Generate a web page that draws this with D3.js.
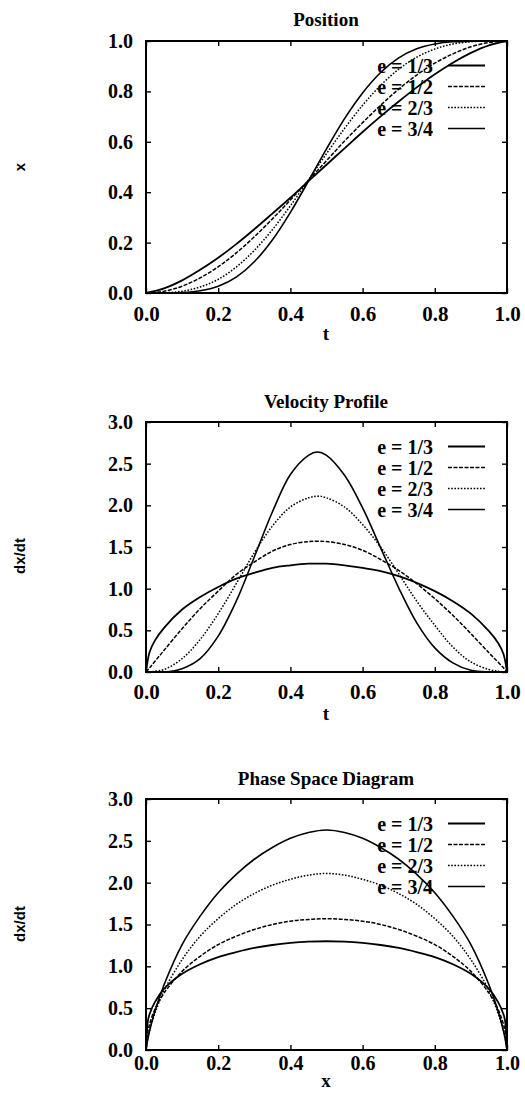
<!DOCTYPE html>
<html>
<head>
<meta charset="utf-8">
<script src="https://cdn.jsdelivr.net/npm/d3@7.9.0/dist/d3.min.js"></script>
<style>
    body { margin: 0; background: #fff; }
    svg { display: block; }
    .tick text { font-family: 'Liberation Serif', 'Times New Roman', serif; font-weight: bold; fill: #000; }
    .title, .xlabel, .legend text { font-family: 'Liberation Serif', 'Times New Roman', serif; font-weight: bold; fill: #000; }
    .ylabel { font-family: 'Liberation Sans', Arial, sans-serif; font-weight: bold; fill: #000; }
</style>
</head>
<body>
<svg id="chart" width="525" height="1101"></svg>
<script>
// legend entries
const eLabels = ['e = 1/3', 'e = 1/2', 'e = 2/3', 'e = 3/4'];

// position x(t)
const tPos = [0, 0.05, 0.1, 0.15, 0.2, 0.25, 0.3, 0.35, 0.4, 0.45, 0.5, 0.55, 0.6, 0.65, 0.7, 0.75, 0.8, 0.85, 0.9, 0.95, 1];
const posE13 = [0, 0.018, 0.050, 0.092, 0.140, 0.194, 0.253, 0.315, 0.378, 0.444, 0.509, 0.574, 0.639, 0.701, 0.760, 0.816, 0.868, 0.914, 0.953, 0.983, 1];
const posE12 = [0, 0.007, 0.027, 0.060, 0.104, 0.159, 0.223, 0.294, 0.369, 0.447, 0.525, 0.603, 0.676, 0.745, 0.809, 0.865, 0.912, 0.949, 0.977, 0.994, 1];
const posE23 = [0, 0.001, 0.007, 0.024, 0.054, 0.103, 0.169, 0.251, 0.346, 0.449, 0.553, 0.653, 0.745, 0.824, 0.888, 0.936, 0.968, 0.988, 0.997, 1, 1];
const posE34 = [0, 0, 0.002, 0.009, 0.027, 0.063, 0.124, 0.210, 0.320, 0.444, 0.572, 0.692, 0.794, 0.875, 0.933, 0.969, 0.988, 0.997, 0.999, 1, 1];

// velocity dx/dt(t)
const tVel = [0, 0.01, 0.025, 0.05, 0.1, 0.15, 0.2, 0.25, 0.3, 0.35, 0.4, 0.45, 0.475, 0.5, 0.55, 0.6, 0.65, 0.7, 0.75, 0.8, 0.85, 0.9, 0.95, 0.975, 0.99, 1];
const velE13 = [0, 0.24, 0.38, 0.53, 0.75, 0.90, 1.02, 1.12, 1.19, 1.25, 1.28, 1.30, 1.30, 1.30, 1.28, 1.25, 1.21, 1.15, 1.07, 0.97, 0.85, 0.70, 0.49, 0.35, 0.22, 0];
const velE12 = [0, 0.05, 0.13, 0.26, 0.52, 0.76, 0.97, 1.17, 1.32, 1.45, 1.53, 1.565, 1.57, 1.565, 1.53, 1.46, 1.35, 1.22, 1.06, 0.88, 0.68, 0.46, 0.23, 0.12, 0.05, 0];
const velE23 = [0, 0, 0.01, 0.03, 0.16, 0.39, 0.70, 1.06, 1.43, 1.75, 1.98, 2.09, 2.11, 2.09, 1.98, 1.77, 1.50, 1.18, 0.85, 0.56, 0.30, 0.12, 0.03, 0.01, 0, 0];
const velE34 = [0, 0, 0, 0, 0.04, 0.16, 0.43, 0.85, 1.38, 1.92, 2.37, 2.60, 2.64, 2.60, 2.36, 1.97, 1.49, 1.01, 0.59, 0.29, 0.11, 0.02, 0, 0, 0, 0];

// phase space dx/dt(x)
const xPhase = [0, 0.005, 0.01, 0.025, 0.05, 0.1, 0.15, 0.2, 0.25, 0.3, 0.35, 0.4, 0.45, 0.5, 0.55, 0.6, 0.65, 0.7, 0.75, 0.8, 0.85, 0.9, 0.95, 0.975, 0.99, 0.995, 1];
const phaseE13 = [0, 0.34, 0.43, 0.575, 0.73, 0.91, 1.025, 1.11, 1.17, 1.22, 1.255, 1.28, 1.295, 1.30, 1.295, 1.28, 1.255, 1.22, 1.17, 1.11, 1.025, 0.91, 0.73, 0.575, 0.43, 0.34, 0];
const phaseE12 = [0, 0.22, 0.31, 0.49, 0.68, 0.94, 1.12, 1.26, 1.36, 1.44, 1.50, 1.54, 1.56, 1.57, 1.56, 1.54, 1.50, 1.44, 1.36, 1.26, 1.12, 0.94, 0.68, 0.49, 0.31, 0.22, 0];
const phaseE23 = [0, 0.15, 0.24, 0.44, 0.71, 1.08, 1.36, 1.57, 1.74, 1.87, 1.97, 2.04, 2.09, 2.11, 2.09, 2.04, 1.97, 1.87, 1.74, 1.57, 1.36, 1.08, 0.71, 0.44, 0.24, 0.15, 0];
const phaseE34 = [0, 0.13, 0.23, 0.47, 0.78, 1.26, 1.60, 1.88, 2.10, 2.28, 2.42, 2.53, 2.60, 2.63, 2.60, 2.53, 2.42, 2.28, 2.10, 1.88, 1.60, 1.26, 0.78, 0.47, 0.23, 0.13, 0];

const xTicks = [0, 0.2, 0.4, 0.6, 0.8, 1.0];
const posTicks = [0, 0.2, 0.4, 0.6, 0.8, 1.0];
const velTicks = [0, 0.5, 1.0, 1.5, 2.0, 2.5, 3.0];

const dashes = [null, '4,1.5', '1.6,1.6', null];
const widths = [1.8, 1.5, 1.5, 1.6];

const svg = d3.select('#chart');
const x = d3.scaleLinear().domain([0, 1]).range([146, 507]);
const fmt = d3.format('.1f');

function drawPanel(p, idx) {
    const g = svg.append('g');
    const y = d3.scaleLinear().domain([0, p.yMax]).range([p.bottom, p.top]);

    g.append('clipPath').attr('id', `clip${idx}`)
        .append('rect')
        .attr('x', x(0)).attr('y', p.top)
        .attr('width', x(1) - x(0)).attr('height', p.bottom - p.top);

    g.append('g')
        .attr('transform', `translate(0,${p.bottom})`)
        .call(d3.axisBottom(x).tickValues(xTicks).tickFormat(fmt).tickSizeInner(-5).tickSizeOuter(0).tickPadding(p.xPad))
        .call((s) => s.select('.domain').remove())
        .selectAll('text').attr('font-size', p.xFont);
    g.append('g')
        .attr('transform', `translate(0,${p.top})`)
        .call(d3.axisTop(x).tickValues(xTicks).tickFormat('').tickSizeInner(-5).tickSizeOuter(0))
        .call((s) => s.select('.domain').remove());
    g.append('g')
        .attr('transform', `translate(${x(0)},0)`)
        .call(d3.axisLeft(y).tickValues(p.yTicks).tickFormat(fmt).tickSizeInner(-5).tickSizeOuter(0).tickPadding(13))
        .call((s) => s.select('.domain').remove())
        .selectAll('text').attr('font-size', 20);
    g.append('g')
        .attr('transform', `translate(${x(1)},0)`)
        .call(d3.axisRight(y).tickValues(p.yTicks).tickFormat('').tickSizeInner(-5).tickSizeOuter(0))
        .call((s) => s.select('.domain').remove());
    g.selectAll('.tick line').attr('stroke', '#000').attr('stroke-width', 1.4);

    const line = d3.line().x((d) => x(d[0])).y((d) => y(d[1])).curve(p.curve);
    const curves = g.append('g').attr('clip-path', `url(#clip${idx})`);
    p.series.forEach((vals, i) => {
        curves.append('path')
            .datum(p.xs.map((xv, j) => [xv, vals[j]]))
            .attr('d', line)
            .attr('fill', 'none')
            .attr('stroke', '#000')
            .attr('stroke-width', widths[i])
            .attr('stroke-dasharray', dashes[i]);
    });

    g.append('rect')
        .attr('x', x(0)).attr('y', p.top)
        .attr('width', x(1) - x(0)).attr('height', p.bottom - p.top)
        .attr('fill', 'none').attr('stroke', '#000').attr('stroke-width', 2);

    const legend = g.append('g').attr('class', 'legend');
    eLabels.forEach((label, i) => {
        const ly = p.top + 24.5 + 21 * i;
        legend.append('text')
            .attr('x', 433).attr('y', ly).attr('dy', '0.35em')
            .attr('text-anchor', 'end').attr('font-size', 20)
            .text(label);
        legend.append('line')
            .attr('x1', 448).attr('x2', 485).attr('y1', ly).attr('y2', ly)
            .attr('stroke', '#000').attr('stroke-width', widths[i])
            .attr('stroke-dasharray', dashes[i]);
    });

    g.append('text').attr('class', 'title')
        .attr('x', 326).attr('y', p.titleY)
        .attr('text-anchor', 'middle').attr('font-size', 19)
        .text(p.title);
    g.append('text').attr('class', 'xlabel')
        .attr('x', 326).attr('y', p.xLabelY)
        .attr('text-anchor', 'middle').attr('font-size', 19)
        .text(p.xLabel);
    g.append('text').attr('class', 'ylabel')
        .attr('transform', `translate(20,${p.yLabelY}) rotate(-90)`)
        .attr('text-anchor', 'middle').attr('dy', '0.35em').attr('font-size', 15)
        .text(p.yLabel);
}

drawPanel({
    title: 'Position', titleY: 26, top: 41, bottom: 293, yMax: 1, yTicks: posTicks,
    xPad: 13, xFont: 21, xLabel: 't', xLabelY: 340, yLabel: 'x', yLabelY: 167,
    xs: tPos, series: [posE13, posE12, posE23, posE34], curve: d3.curveMonotoneX,
}, 1);
drawPanel({
    title: 'Velocity Profile', titleY: 408, top: 422, bottom: 672, yMax: 3, yTicks: velTicks,
    xPad: 12, xFont: 21, xLabel: 't', xLabelY: 720, yLabel: 'dx/dt', yLabelY: 556,
    xs: tVel, series: [velE13, velE12, velE23, velE34], curve: d3.curveCatmullRom.alpha(0.5),
}, 2);
drawPanel({
    title: 'Phase Space Diagram', titleY: 785, top: 799, bottom: 1050, yMax: 3, yTicks: velTicks,
    xPad: 6, xFont: 20, xLabel: 'x', xLabelY: 1087, yLabel: 'dx/dt', yLabelY: 924,
    xs: xPhase, series: [phaseE13, phaseE12, phaseE23, phaseE34], curve: d3.curveCatmullRom.alpha(0.5),
}, 3);
</script>
</body>
</html>
